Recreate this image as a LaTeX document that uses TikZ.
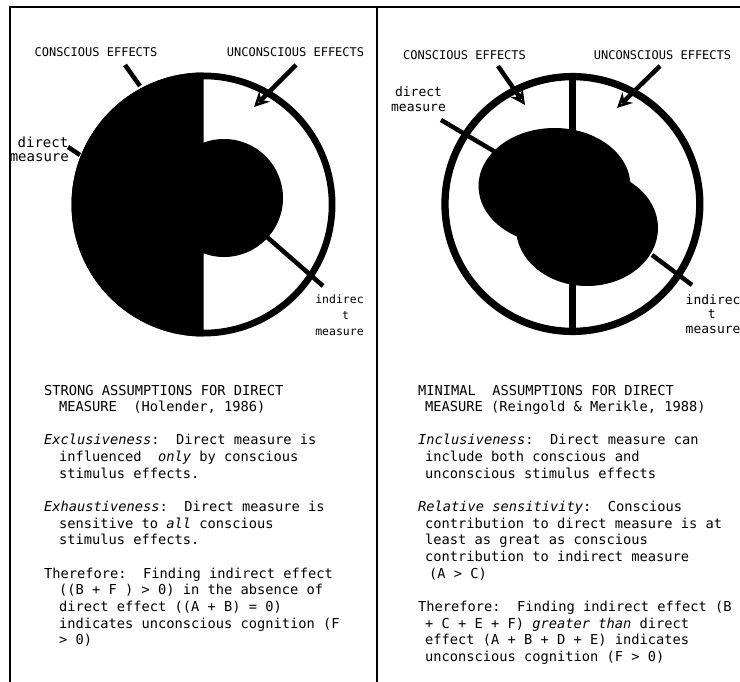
\documentclass[tikz,border=0pt]{standalone}
\usepackage{fontspec}
\newfontfamily\mono{DejaVu Sans Mono}
\usetikzlibrary{arrows.meta}
\frenchspacing
\tikzset{
  frame/.style={line width=1.6pt},
  conn/.style={line width=4.5pt},
  arr/.style={line width=4.5pt, -{Stealth[open,length=15pt,width=15pt,inset=5pt,line width=3pt]}},
  lab/.style={inner sep=0pt, font=\mono\fontsize{12}{14}\selectfont},
  dlabL/.style={inner sep=0pt, font=\mono\fontsize{14}{16}\selectfont},
  dlabR/.style={inner sep=0pt, font=\mono\fontsize{13}{15}\selectfont},
  ilab/.style={inner sep=0pt, font=\mono\fontsize{11.5}{13}\selectfont},
  ilabR/.style={inner sep=0pt, font=\mono\fontsize{13}{15}\selectfont},
  body/.style={inner sep=0pt, anchor=base west, font=\mono\fontsize{13.7}{16}\selectfont},
}
\begin{document}
\begin{tikzpicture}[x=1pt,y=-1pt]
\useasboundingbox (0,0) rectangle (740,682);
\fill[white] (0,0) rectangle (740,682);
% frame
\draw[frame] (10,682) -- (10,7) -- (740,7);
\draw[frame] (377,7) -- (377,682);

% ---------- left panel ----------
\coordinate (cL) at (203.5,204.5);
\begin{scope}
  \clip (0,0) rectangle (203.5,682);
  \fill (cL) circle (132);
\end{scope}
\fill (224,198) circle (59);
\draw[line width=6.7pt] (cL) circle (128.6);

\node[lab] (ceL) at (96,52) {CONSCIOUS EFFECTS};
\node[lab] (ueL) at (295.5,52) {UNCONSCIOUS EFFECTS};
\node[dlabL] (dL1) at (43,142) {direct};
\node[dlabL] (dL2) at (39.3,157.3) {measure};
\node[ilab] (iL1) at (339.5,299) {indirec};
\node[ilab] (iL2) at (345.5,315) {t};
\node[ilab] (iL3) at (339.5,332) {measure};

\coordinate (ceLa) at (125,65);  \coordinate (ceLb) at (140,86);
\coordinate (ueLa) at (296,65);  \coordinate (ueLb) at (254,107);
\coordinate (dLa) at (68,147);   \coordinate (dLb) at (80,155);
\coordinate (iLa) at (323,286);  \coordinate (iLb) at (267,237);
\draw[conn] (ceLa) -- (ceLb);
\draw[arr] (ueLa) -- (ueLb);
\draw[conn] (dLa) -- (dLb);
\draw[conn] (iLa) -- (iLb);

% ---------- right panel ----------
\coordinate (cR) at (572.4,204);
\draw[line width=7.3pt] (cR) circle (127.4);
\draw[line width=6.7pt] (572.6,78) -- (572.6,330);
\coordinate (dRa) at (441,120);  \coordinate (dRb) at (497,153);
\draw[conn] (dRa) -- (dRb);
\fill (554.5,186) ellipse [x radius=76, y radius=58];
\fill (587,228) ellipse [x radius=71, y radius=58];

\node[lab] (ceR) at (464.5,55) {CONSCIOUS EFFECTS};
\node[lab] (ueR) at (662.5,55) {UNCONSCIOUS EFFECTS};
\node[dlabR] (dR1) at (418.5,92) {direct};
\node[dlabR] (dR2) at (418.5,107.5) {measure};
\node[ilabR, anchor=west] (iR1) at (685.5,299.5) {indirec};
\node[ilabR] (iR2) at (711.7,314) {t};
\node[ilabR, anchor=west] (iR3) at (685.5,330) {measure};

\coordinate (ceRa) at (498,66);  \coordinate (ceRb) at (525,105);
\coordinate (ueRa) at (660,66);  \coordinate (ueRb) at (617,108);
\coordinate (iRa) at (692,285);  \coordinate (iRb) at (652,255);
\draw[arr] (ceRa) -- (ceRb);
\draw[arr] (ueRa) -- (ueRb);
\draw[conn] (iRa) -- (iRb);

% ---------- left text ----------
\node[body] (l0) at (44,395) {STRONG ASSUMPTIONS FOR DIRECT};
\node[body] (l1) at (59,411.65) {MEASURE~~(Holender, 1986)};
\node[body] (l3) at (44,444.95) {\textit{Exclusiveness}:~~Direct measure is};
\node[body] (l4) at (59,461.6) {influenced~~\textit{only} by conscious};
\node[body] (l5) at (59,478.25) {stimulus effects.};
\node[body] (l7) at (44,511.55) {\textit{Exhaustiveness}:~~Direct measure is};
\node[body] (l8) at (59,528.2) {sensitive to \textit{all} conscious};
\node[body] (l9) at (59,544.85) {stimulus effects.};
\node[body] (l11) at (44,578.15) {Therefore:~~Finding indirect effect};
\node[body] (l12) at (59,594.8) {((B + F ) > 0) in the absence of};
\node[body] (l13) at (59,611.45) {direct effect ((A + B) = 0)};
\node[body] (l14) at (59,628.1) {indicates unconscious cognition (F};
\node[body] (l15) at (59,644.75) {> 0)};

% ---------- right text ----------
\node[body] (r0) at (418,395) {MINIMAL~~ASSUMPTIONS FOR DIRECT};
\node[body] (r1) at (425,411.65) {MEASURE (Reingold \& Merikle, 1988)};
\node[body] (r3) at (418,444.95) {\textit{Inclusiveness}:~~Direct measure can};
\node[body] (r4) at (425,461.6) {include both conscious and};
\node[body] (r5) at (425,478.25) {unconscious stimulus effects};
\node[body] (r7) at (418,511.55) {\textit{Relative sensitivity}:~~Conscious};
\node[body] (r8) at (425,528.2) {contribution to direct measure is at};
\node[body] (r9) at (425,544.85) {least as great as conscious};
\node[body] (r10) at (425,561.5) {contribution to indirect measure};
\node[body] (r11) at (429,578.15) {(A > C)};
\node[body] (r13) at (418,611.45) {Therefore:~~Finding indirect effect (B};
\node[body] (r14) at (425,628.1) {+ C + E + F) \textit{greater than} direct};
\node[body] (r15) at (425,644.75) {effect (A + B + D + E) indicates};
\node[body] (r16) at (425,661.4) {unconscious cognition (F > 0)};
\end{tikzpicture}
\end{document}
